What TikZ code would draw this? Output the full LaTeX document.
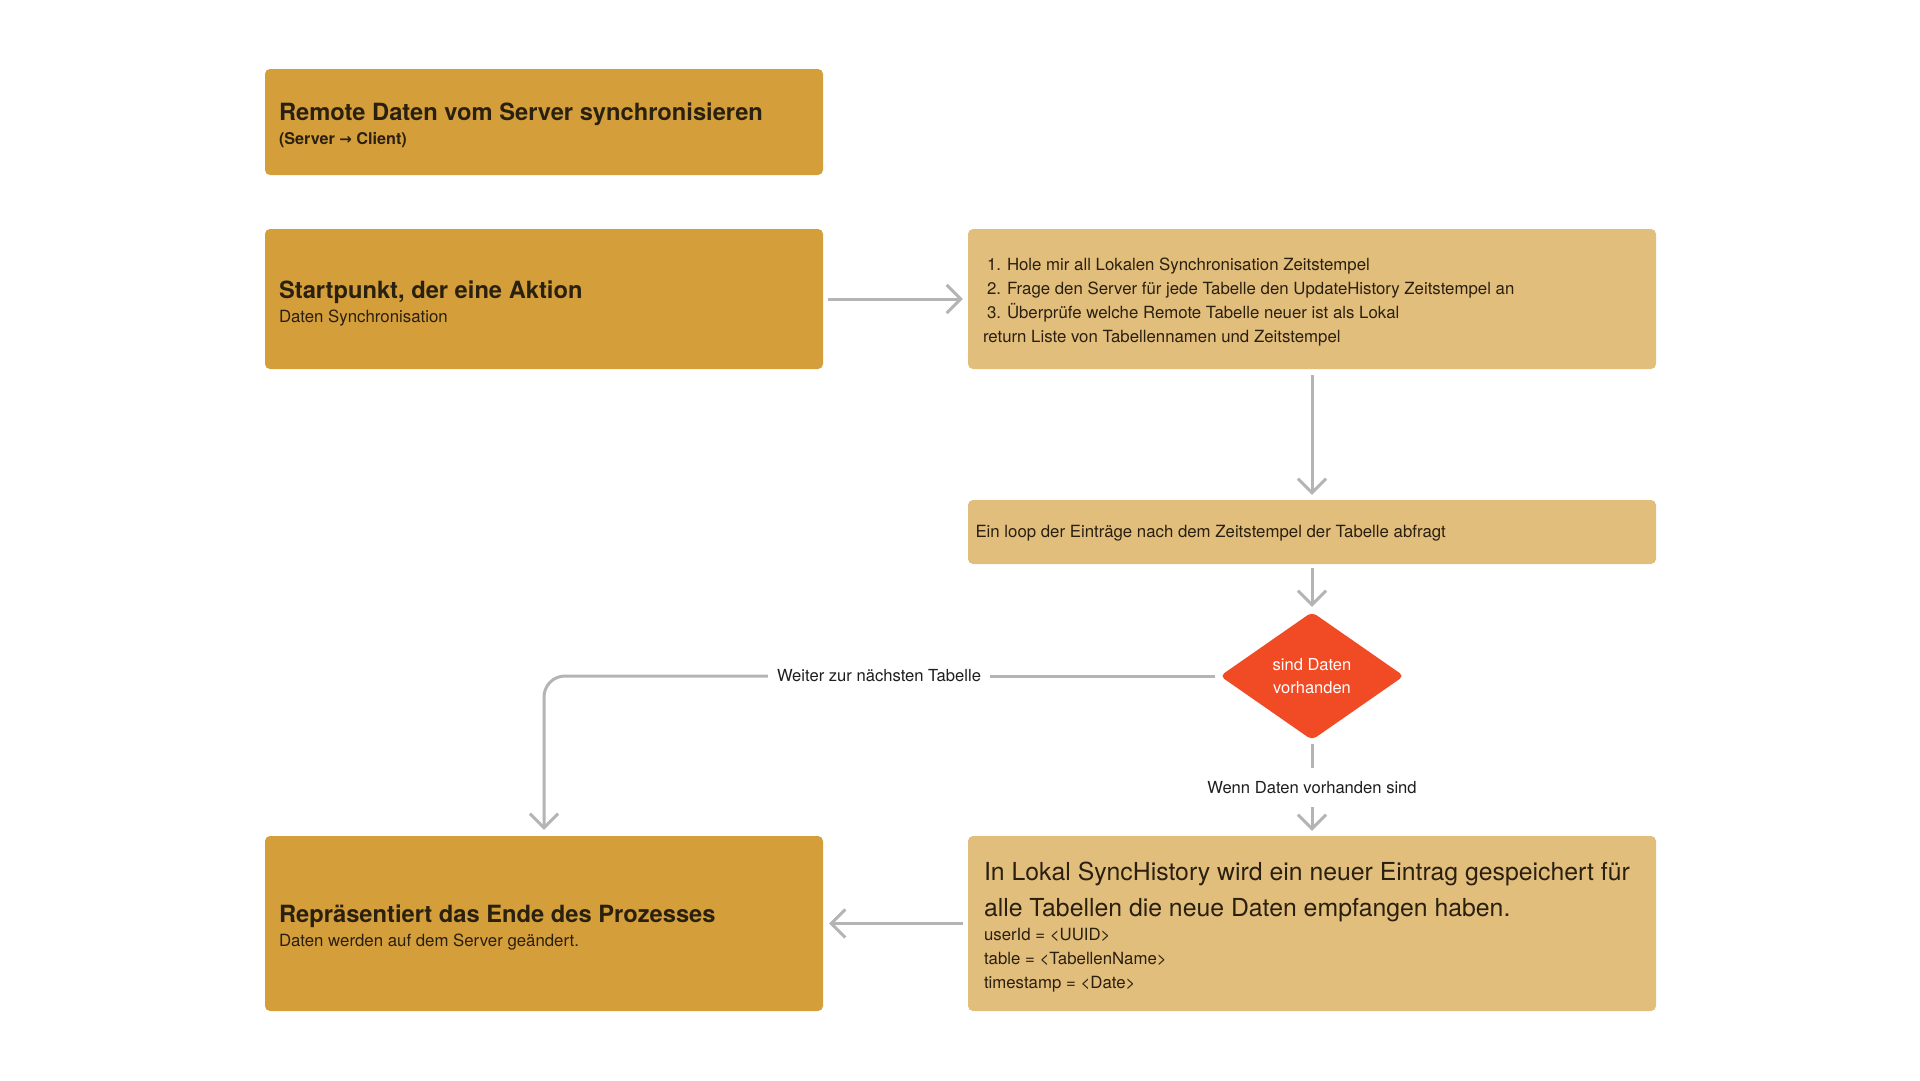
\documentclass[tikz,border=0pt]{standalone}
\usepackage{fontspec}
\setmainfont{TeX Gyre Heros}
\newfontfamily\symfont{DejaVu Sans}
\usetikzlibrary{shapes.geometric,arrows.meta}

\definecolor{golddark}{HTML}{D49E3B}
\definecolor{goldlight}{HTML}{E2BE7C}
\definecolor{alarm}{HTML}{F04B24}
\definecolor{wire}{HTML}{B4B4B4}
\definecolor{ink}{HTML}{2A2010}
\definecolor{labelink}{HTML}{1E1E1E}

\tikzset{
    darkbox/.style={fill=golddark, rounded corners=5pt, inner sep=0pt, minimum width=558pt},
    lightbox/.style={fill=goldlight, rounded corners=5pt, inner sep=0pt, minimum width=688pt},
    title/.style={font=\fontsize{23.7}{24}\selectfont\bfseries, text=ink, inner sep=0pt},
    subtext/.style={font=\fontsize{16.8}{24}\selectfont, text=ink, inner sep=0pt, align=left},
    bigtext/.style={font=\fontsize{24.8}{35.5}\selectfont, text=ink, inner sep=0pt, align=left},
    flowlabel/.style={font=\fontsize{16.6}{20}\selectfont, text=labelink, inner ysep=0pt},
    wireline/.style={draw=wire, line width=3pt},
    link/.style={wireline, -{Straight Barb[length=14pt,width=28pt]}}
}

\begin{document}
\begin{tikzpicture}[x=1pt, y=-1pt]
    \path[fill=white, use as bounding box] (0,0) rectangle (1920,1080);

    % boxes
    \node[darkbox, minimum height=106pt] (b1) at (544,122) {};
    \node[darkbox, minimum height=140pt] (b2) at (544,299) {};
    \node[lightbox, minimum height=140pt] (b3) at (1312,299) {};
    \node[lightbox, minimum height=64pt] (b4) at (1312,532) {};
    \node[diamond, fill=alarm, rounded corners=5pt, inner sep=0pt, minimum width=184pt, minimum height=128pt,
          text=white, align=center, font=\fontsize{16.5}{23}\selectfont] (dia) at (1312,676) {sind Daten\\vorhanden};
    \node[lightbox, minimum height=175pt] (b5) at (1312,923.5) {};
    \node[darkbox, minimum height=175pt] (b6) at (544,923.5) {};

    % texts in the boxes (base = last line)
    \node[title, anchor=base west] (t1) at ([shift={(14,-1.3)}]b1.west) {Remote Daten vom Server synchronisieren};
    \node[subtext, font=\fontsize{16.2}{24}\selectfont\bfseries, anchor=base west] (s1) at ([shift={(0,23.3)}]t1.base west) {(Server {\symfont\fontsize{15}{24}\selectfont →} Client)};
    \node[title, anchor=base west] (t2) at ([shift={(14,-1)}]b2.west) {Startpunkt, der eine Aktion};
    \node[subtext, anchor=base west] (s2) at ([shift={(0,24)}]t2.base west) {Daten Synchronisation};
    \node[subtext, anchor=base west] (t3) at ([shift={(15,43)}]b3.west) {%
        \hspace*{4pt}\makebox[20pt][l]{1.}Hole mir all Lokalen Synchronisation Zeitstempel\\
        \hspace*{4pt}\makebox[20pt][l]{2.}Frage den Server für jede Tabelle den UpdateHistory Zeitstempel an\\
        \hspace*{4pt}\makebox[20pt][l]{3.}Überprüfe welche Remote Tabelle neuer ist als Lokal\\
        return Liste von Tabellennamen und Zeitstempel};
    \node[subtext, anchor=base west] (t4) at ([shift={(7.5,5)}]b4.west) {Ein loop der Einträge nach dem Zeitstempel der Tabelle abfragt};
    \node[bigtext, anchor=base west] (t5) at ([shift={(16,-7.5)}]b5.west) {In Lokal SyncHistory wird ein neuer Eintrag gespeichert für\\alle Tabellen die neue Daten empfangen haben.};
    \node[subtext, anchor=base west] (s5) at ([shift={(16,64.5)}]b5.west) {userId = <UUID>\\table = <TabellenName>\\timestamp = <Date>};
    \node[title, anchor=base west] (t6) at ([shift={(14,-1.5)}]b6.west) {Repräsentiert das Ende des Prozesses};
    \node[subtext, anchor=base west] (s6) at ([shift={(0,24)}]t6.base west) {Daten werden auf dem Server geändert.};

    % labels on the connectors
    \node[flowlabel, minimum height=39pt, inner xsep=0pt] (yes) at (1312,787.5) {Wenn Daten vorhanden sind};
    \node[flowlabel, inner xsep=9pt] (no) at (879,676) {Weiter zur nächsten Tabelle};

    % connectors
    \draw[link, shorten <=5pt, shorten >=5pt] (b2) -- (b3);
    \draw[link, shorten <=6pt, shorten >=5pt] (b3) -- (b4);
    \draw[link, shorten <=4pt, shorten >=5pt] (b4) -- (dia);
    \draw[wireline, shorten <=4pt] (dia) -- (yes);
    \draw[link, shorten >=5pt] (yes) -- (b5);
    \draw[wireline, shorten <=5pt] (dia) -- (no);
    \draw[link, rounded corners=21pt, shorten >=6pt] (no.west) -| (b6.north);
    \draw[link, shorten <=5pt, shorten >=6pt] (b5) -- (b6);
\end{tikzpicture}
\end{document}
